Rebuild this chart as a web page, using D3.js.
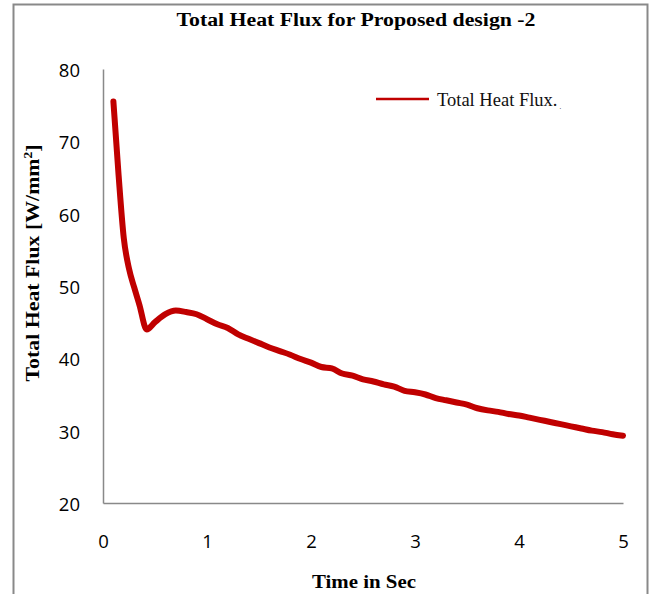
<!DOCTYPE html>
<html>
<head>
<meta charset="utf-8">
<script src="https://cdn.jsdelivr.net/npm/d3@7"></script>
<style>
  html, body { margin: 0; padding: 0; background: #fff; }
  svg { display: block; }
</style>
</head>
<body>
<svg id="chart" width="656" height="594"></svg>
<script>
const chartTitle = "Total Heat Flux for Proposed design -2";
const xLabel = "Time in Sec";
const yLabel = "Total Heat Flux [W/mm";
const seriesName = "Total Heat Flux.";
const xTicks = [0, 1, 2, 3, 4, 5];
const yTicks = [20, 30, 40, 50, 60, 70, 80];
const timeSec = [0.1, 0.15, 0.2, 0.25, 0.3, 0.35, 0.42, 0.5, 0.6, 0.7, 0.8, 0.9, 1.0,
                 1.1, 1.2, 1.3, 1.4, 1.5, 1.6, 1.7, 1.8, 1.9, 2.0,
                 2.1, 2.2, 2.3, 2.4, 2.5, 2.6, 2.7, 2.8, 2.9, 3.0,
                 3.1, 3.2, 3.3, 3.4, 3.5, 3.6, 3.7, 3.8, 3.9, 4.0,
                 4.1, 4.2, 4.3, 4.4, 4.5, 4.6, 4.7, 4.8, 4.9, 5.0];
const heatFlux = [75.5, 65.3, 56.6, 52.4, 49.8, 47.4, 44.0, 45.0, 46.1, 46.6, 46.4, 46.1, 45.4,
                  44.7, 44.2, 43.3, 42.7, 42.1, 41.5, 41.0, 40.5, 39.9, 39.4,
                  38.8, 38.6, 37.9, 37.6, 37.1, 36.8, 36.4, 36.1, 35.5, 35.3,
                  35.0, 34.5, 34.2, 33.9, 33.6, 33.1, 32.8, 32.6, 32.3, 32.1,
                  31.8, 31.5, 31.2, 30.9, 30.6, 30.3, 30.0, 29.8, 29.5, 29.3];

const data = timeSec.map((t, i) => ({ t, v: heatFlux[i] }));

const svg = d3.select("#chart");
const axisColor = "#898989";

// outer frame
svg.append("rect")
  .attr("x", 13.5).attr("y", 4.5)
  .attr("width", 634).attr("height", 620)
  .attr("fill", "none").attr("stroke", axisColor).attr("stroke-width", 2);

const x = d3.scaleLinear().domain([0, 5]).range([103, 623]);
const y = d3.scaleLinear().domain([20, 80]).range([503, 69]);

const tickFont = "'Open Sans', 'Noto Sans', sans-serif";

const yAxis = svg.append("g")
  .attr("transform", `translate(${x(0)},0)`)
  .call(d3.axisLeft(y).tickValues(yTicks).tickSize(0).tickSizeOuter(0).tickPadding(23).tickFormat(d3.format("d")));
const xAxis = svg.append("g")
  .attr("transform", `translate(0,${y(20)})`)
  .call(d3.axisBottom(x).tickValues(xTicks).tickSize(0).tickSizeOuter(0).tickFormat(d3.format("d")));

[yAxis, xAxis].forEach(g => {
  g.select(".domain").attr("stroke", axisColor).attr("stroke-width", 1.5);
  g.selectAll("text")
    .attr("font-family", tickFont).attr("font-size", 18.5).attr("fill", "#000");
});
yAxis.selectAll("text").attr("dy", null).attr("dominant-baseline", "central");
xAxis.selectAll("text").attr("dy", null).attr("y", 37).attr("dominant-baseline", "central");

// line
const line = d3.line().x(d => x(d.t)).y(d => y(d.v)).curve(d3.curveMonotoneX);
svg.append("path")
  .datum(data)
  .attr("d", line)
  .attr("fill", "none")
  .attr("stroke", "#C00000")
  .attr("stroke-width", 6)
  .attr("stroke-linejoin", "round")
  .attr("stroke-linecap", "round");

const serif = "'Liberation Serif', 'Times New Roman', serif";

// title
svg.append("text")
  .attr("x", 356).attr("y", 26)
  .attr("text-anchor", "middle")
  .attr("font-family", serif).attr("font-weight", "bold").attr("font-size", 18.5)
  .attr("textLength", 359).attr("lengthAdjust", "spacingAndGlyphs")
  .text(chartTitle);

// x label
svg.append("text")
  .attr("x", 364).attr("y", 588)
  .attr("text-anchor", "middle")
  .attr("font-family", serif).attr("font-weight", "bold").attr("font-size", 19)
  .attr("textLength", 104).attr("lengthAdjust", "spacingAndGlyphs")
  .text(xLabel);

// y label
const yl = svg.append("text")
  .attr("transform", "translate(39,263) rotate(-90)")
  .attr("text-anchor", "middle")
  .attr("font-family", serif).attr("font-weight", "bold").attr("font-size", 19.5)
  .attr("textLength", 237).attr("lengthAdjust", "spacingAndGlyphs");
yl.append("tspan").text(yLabel);
yl.append("tspan").attr("font-size", 12).attr("dy", -7).text("2");
yl.append("tspan").attr("dy", 7).text("]");

// legend
svg.append("line")
  .attr("x1", 376).attr("x2", 429).attr("y1", 99).attr("y2", 99)
  .attr("stroke", "#C00000").attr("stroke-width", 2.5);
const lt = svg.append("text")
  .attr("x", 437).attr("y", 105.5)
  .attr("font-family", serif).attr("font-size", 18.5).attr("fill", "#111");
lt.append("tspan").text(seriesName);
lt.append("tspan").attr("font-size", 7).attr("dx", 2).attr("dy", 3).text(".");
</script>
</body>
</html>
